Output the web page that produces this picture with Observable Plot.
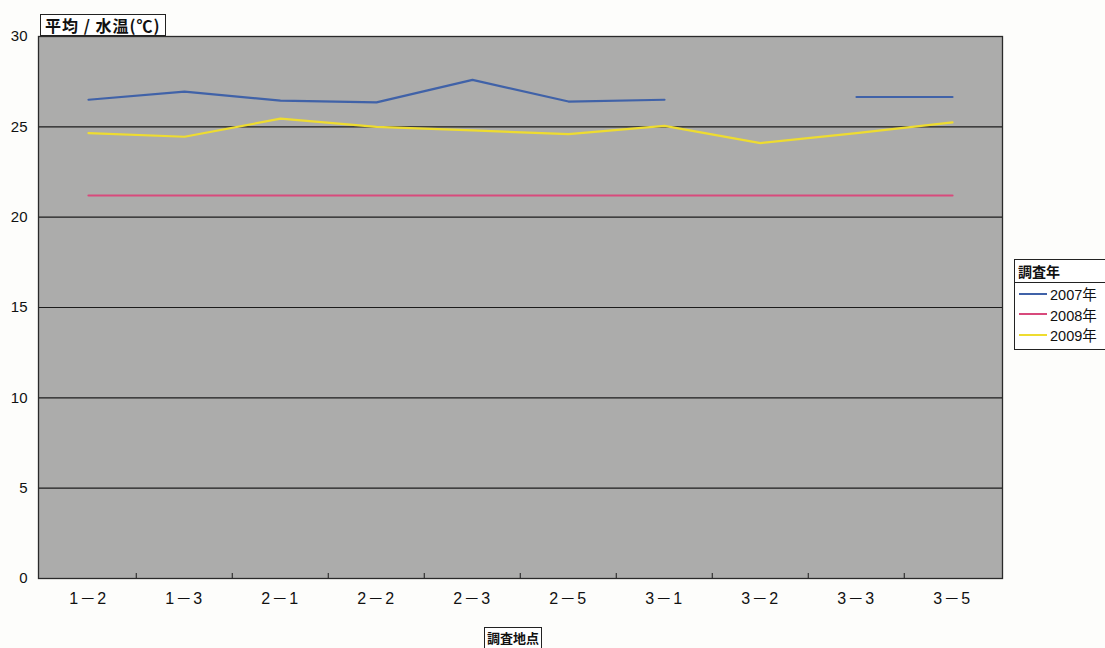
<!DOCTYPE html>
<html>
<head>
<meta charset="utf-8">
<script src="https://cdn.jsdelivr.net/npm/d3@7"></script>
<script src="https://cdn.jsdelivr.net/npm/@observablehq/plot@0.6"></script>
<style>
  html, body { margin: 0; padding: 0; background: #fdfdfb; }
  #wrap { position: relative; width: 1105px; height: 648px; overflow: hidden; font-family: "Liberation Sans", "Noto Sans CJK JP", sans-serif; color: #111; }
  .boxlabel { position: absolute; border: 1px solid #222; background: #fff; font-weight: bold; line-height: 1; box-sizing: border-box; white-space: nowrap; font-family: "Noto Sans CJK JP", sans-serif; }
  #ylab { left: 40px; top: 14px; height: 22px; padding: 2px 4px 0 4px; font-size: 16px; letter-spacing: 1px; }
  #xlab { left: 484px; top: 627px; height: 24px; padding: 3px 2px 0 2px; font-size: 13px; }
  #legend { position: absolute; left: 1014px; top: 259px; width: 110px; height: 91px; border: 1px solid #222; background: #fff; box-sizing: border-box; }
  #legend .title { font-size: 14px; font-weight: bold; padding: 4px 0 3px 3px; border-bottom: 1px solid #222; line-height: 1.1; font-family: "Noto Sans CJK JP", sans-serif; }
  #legend .item { display: flex; align-items: center; height: 20.5px; font-size: 14.5px; padding-left: 4px; }
  #legend .sw { width: 28px; height: 2px; margin-right: 3px; }
  .xax text { font-size: 16px; letter-spacing: 1.5px; }
  .yax text { font-size: 15px; }
</style>
</head>
<body>
<div id="wrap"></div>
<script>
const sites = ["1－2","1－3","2－1","2－2","2－3","2－5","3－1","3－2","3－3","3－5"];
const years = ["2007年","2008年","2009年"];
const colors = ["#4062a8","#d84a7c","#eedc30"];
const temp2007 = [26.5, 26.95, 26.45, 26.35, 27.6, 26.4, 26.5, null, 26.65, 26.65];
const temp2008 = [21.2, 21.2, 21.2, 21.2, 21.2, 21.2, 21.2, 21.2, 21.2, 21.2];
const temp2009 = [24.65, 24.45, 25.45, 25.0, 24.8, 24.6, 25.05, 24.1, 24.65, 25.25];
const yTicks = [0, 5, 10, 15, 20, 25, 30];
const gridValues = [5, 10, 15, 20, 25];
const yLabel = "平均 / 水温(℃)";
const xLabel = "調査地点";
const legendTitle = "調査年";

const series = [temp2007, temp2008, temp2009];
const data = [];
series.forEach((vals, k) => vals.forEach((v, i) => data.push({site: sites[i], year: years[k], value: v})));

const W = 1105, H = 648, mL = 38, mR = 103, mT = 36, mB = 70;
const step = (W - mL - mR) / sites.length;

const chart = Plot.plot({
  width: W, height: H,
  marginLeft: mL, marginRight: mR, marginTop: mT, marginBottom: mB,
  style: {fontFamily: '"Liberation Sans", "Noto Sans CJK JP", sans-serif', fontSize: "15px", background: "transparent", color: "#111"},
  x: {type: "point", domain: sites, padding: 0.5},
  y: {domain: [0, 30]},
  color: {domain: years, range: colors},
  marks: [
    Plot.frame({fill: "#acacab"}),
    Plot.ruleY(gridValues, {stroke: "#1c1c1c", strokeWidth: 1.2}),
    Plot.ruleX(sites.slice(1), {x: d => d, y1: 0, y2: 0.28, dx: -step / 2, stroke: "#333", strokeWidth: 1.2}),
    Plot.line(data, {x: "site", y: "value", z: "year", stroke: "year", strokeWidth: 2.2}),
    Plot.frame({stroke: "#2a2a2a", strokeWidth: 1.3}),
    Plot.axisY({ticks: yTicks, tickSize: 0, tickPadding: 11, label: null, className: "yax"}),
    Plot.axisX({tickSize: 0, tickPadding: 14, label: null, className: "xax"})
  ]
});

const wrap = document.getElementById("wrap");
wrap.appendChild(chart);

const yl = document.createElement("div");
yl.id = "ylab"; yl.className = "boxlabel"; yl.textContent = yLabel;
wrap.appendChild(yl);

const xl = document.createElement("div");
xl.id = "xlab"; xl.className = "boxlabel"; xl.textContent = xLabel;
wrap.appendChild(xl);

const lg = document.createElement("div");
lg.id = "legend";
const t = document.createElement("div");
t.className = "title"; t.textContent = legendTitle;
lg.appendChild(t);
years.forEach((y, i) => {
  const it = document.createElement("div");
  it.className = "item";
  const sw = document.createElement("span");
  sw.className = "sw"; sw.style.background = colors[i];
  it.appendChild(sw);
  const tx = document.createElement("span");
  tx.textContent = y;
  it.appendChild(tx);
  lg.appendChild(it);
});
wrap.appendChild(lg);
</script>
</body>
</html>
